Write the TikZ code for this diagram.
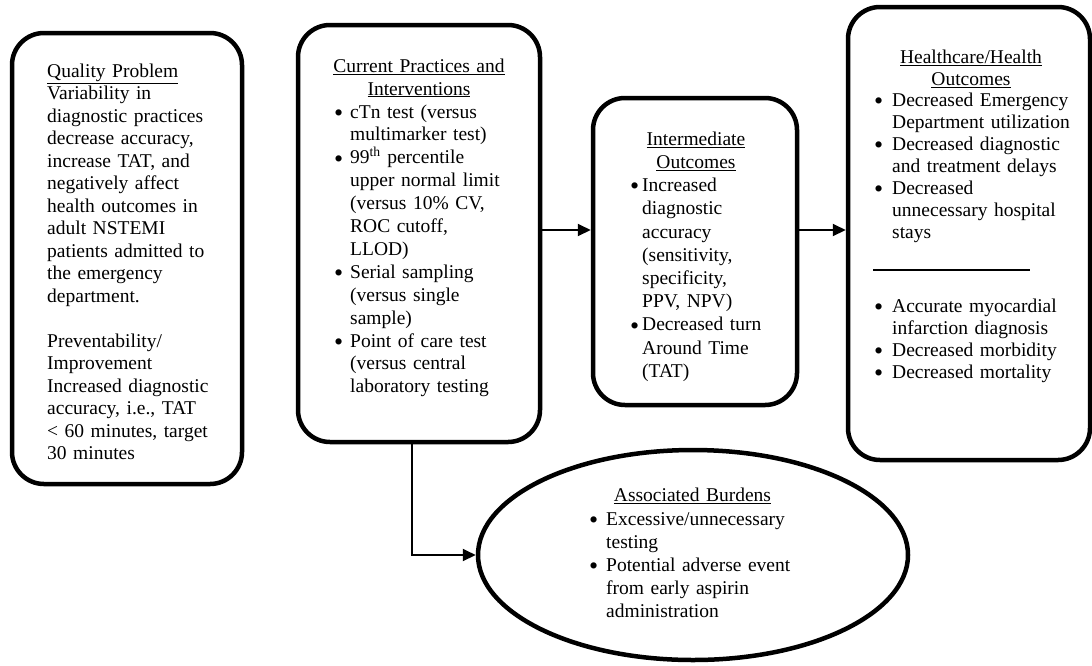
\documentclass[tikz,border=0pt]{standalone}
\usepackage{fontspec}
\setmainfont{Liberation Serif}
\usetikzlibrary{arrows.meta,shapes.geometric}
\newcommand{\bl}[1]{\makebox[#1][l]{\smash{\raisebox{-3.2pt}{\fontsize{26}{22}\selectfont\textbullet}}}}
\newcommand{\ind}[1]{\hspace*{#1}}
\tikzset{
  box/.style={draw, line width=4.5pt, rounded corners=32pt, inner sep=0pt, fill=white},
  fs/.style={font=\fontsize{19.5}{#1}\selectfont},
  txt/.style={inner sep=0pt, anchor=north west, align=left, text width=230pt},
  hd/.style={inner sep=0pt, anchor=north, align=center, text width=220pt},
  arr/.style={line width=2pt, -{Triangle[length=13pt,width=12pt]}},
  rule/.style={line width=1.5pt}
}
\begin{document}
\begin{tikzpicture}[x=1pt,y=-1pt]
\useasboundingbox[fill=white] (0,0) rectangle (1092,665);
% boxes
\node[box, minimum width=230pt, minimum height=451pt] (qp) at (127,258.5) {};
\node[box, minimum width=242pt, minimum height=417pt] (cp) at (419,233.5) {};
\node[box, minimum width=204pt, minimum height=307pt] (io) at (695,251.5) {};
\node[box, minimum width=242pt, minimum height=453pt] (ho) at (969,233.5) {};
\node[draw, ellipse, line width=4.5pt, inner sep=0pt, fill=white, minimum width=430pt, minimum height=210pt] (bur) at (693,555) {};
% helper coordinates
\coordinate (h) at (0,230);
\coordinate (vx) at (412,0);
% connectors
\draw[arr] (cp.east |- h) -- (io.west |- h);
\draw[arr] (io.east |- h) -- (ho.west |- h);
\draw[arr] (cp.south -| vx) |- (bur.west);
% box 1 text
\node[txt, fs=22.5] (qpt) at (47,61.25) {\strut\underline{Quality Problem}\\
Variability in\\
diagnostic practices\\
decrease accuracy,\\
increase TAT, and\\
negatively affect\\
health outcomes in\\
adult NSTEMI\\
patients admitted to\\
the emergency\\
department.\\[22.5pt]
Preventability/\\
Improvement\\
Increased diagnostic\\
accuracy, i.e., TAT\\
< 60 minutes, target\\
30 minutes};
% box 2 text
\node[hd, fs=22.9] (cph) at (419,55.97) {\strut\underline{Current Practices and}\\\underline{Interventions}};
\node[txt, fs=22.9] (cpl) at (334,101.77) {\strut\bl{16pt}cTn test (versus\\
\ind{16pt}multimarker test)\\
\bl{16pt}99\textsuperscript{th} percentile\\
\ind{16pt}upper normal limit\\
\ind{16pt}(versus 10\% CV,\\
\ind{16pt}ROC cutoff,\\
\ind{16pt}LLOD)\\
\bl{16pt}Serial sampling\\
\ind{16pt}(versus single\\
\ind{16pt}sample)\\
\bl{16pt}Point of care test\\
\ind{16pt}(versus central\\
\ind{16pt}laboratory testing};
% box 3 text
\node[hd, fs=23.2] (ioh) at (696,128.76) {\strut\underline{Intermediate}\\\underline{Outcomes}};
\node[txt, fs=23.2] (iol) at (630,175.16) {\strut\bl{12pt}Increased\\
\ind{12pt}diagnostic\\
\ind{12pt}accuracy\\
\ind{12pt}(sensitivity,\\
\ind{12pt}specificity,\\
\ind{12pt}PPV, NPV)\\
\bl{12pt}Decreased turn\\
\ind{12pt}Around Time\\
\ind{12pt}(TAT)};
% box 4 text
\node[hd, fs=22] (hoh) at (971,47.6) {\strut\underline{Healthcare/Health}\\\underline{Outcomes}};
\node[txt, fs=22] (hol1) at (874,90.6) {\strut\bl{18pt}Decreased Emergency\\
\ind{18pt}Department utilization\\
\bl{18pt}Decreased diagnostic\\
\ind{18pt}and treatment delays\\
\bl{18pt}Decreased\\
\ind{18pt}unnecessary hospital\\
\ind{18pt}stays};
\draw[rule] (873,270) -- (1030,270);
\node[txt, fs=22] (hol2) at (874,296.6) {\strut\bl{18pt}Accurate myocardial\\
\ind{18pt}infarction diagnosis\\
\bl{18pt}Decreased morbidity\\
\bl{18pt}Decreased mortality};
% ellipse text
\node[hd, fs=23] (burh) at (692.5,485.6) {\strut\underline{Associated Burdens}};
\node[txt, fs=23] (burl) at (589,508.9) {\strut\bl{17pt}Excessive/unnecessary\\
\ind{17pt}testing\\
\bl{17pt}Potential adverse event\\
\ind{17pt}from early aspirin\\
\ind{17pt}administration};
\end{tikzpicture}
\end{document}
